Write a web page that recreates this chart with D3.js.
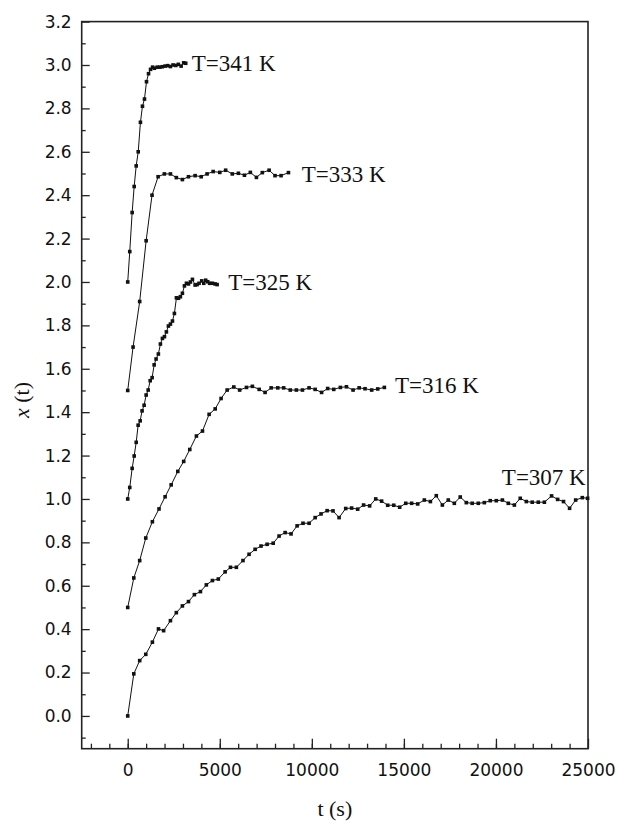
<!DOCTYPE html>
<html>
<head>
<meta charset="utf-8">
<script src="https://cdn.jsdelivr.net/npm/d3@7"></script>
<style>
  body { margin: 0; background: #fff; }
  .tick text { font-family: "DejaVu Sans", sans-serif; font-size: 17px; fill: #111; }
  .lbl { font-family: "Liberation Serif", "Times New Roman", serif; fill: #111; }
</style>
</head>
<body>
<div class="chart"></div>
<script>
// values: time (s) and x(t)
let t341 = [0,110,240,350,460,570,690,800,910,1020,1130,1240,1350,1450,1600,1740,1880,2030,2170,2320,2460,2610,2750,2900,3040,3150]
let x341 = [2.00,2.14,2.32,2.44,2.535,2.60,2.736,2.81,2.843,2.923,2.96,2.98,2.99,2.985,2.99,2.99,2.992,2.995,2.997,2.993,3.0,2.998,3.003,2.995,3.01,3.008]

let t333 = [0,290,650,1000,1320,1650,1990,2320,2640,2970,3300,3660,3990,4310,4640,5000,5320,5680,6010,6340,6660,6990,7310,7680,8000,8330,8730]
let x333 = [1.50,1.70,1.91,2.19,2.40,2.485,2.498,2.498,2.481,2.472,2.485,2.49,2.485,2.498,2.509,2.505,2.515,2.498,2.501,2.492,2.505,2.482,2.504,2.515,2.49,2.49,2.504]

let t325 = [0,110,240,350,460,565,675,780,890,1000,1110,1220,1325,1435,1540,1665,1775,1885,1995,2100,2210,2320,2430,2535,2645,2755,2860,2970,3080,3190,3300,3405,3515,3660,3770,3875,4020,4130,4235,4345,4450,4600,4745,4855]
let x325 = [1.00,1.053,1.141,1.198,1.261,1.34,1.36,1.406,1.432,1.479,1.502,1.545,1.559,1.618,1.645,1.668,1.714,1.74,1.748,1.77,1.797,1.806,1.82,1.855,1.927,1.925,1.932,1.948,1.982,1.994,1.991,2.0,2.012,1.986,1.988,1.994,2.005,1.994,2.008,2.001,1.994,1.994,1.991,1.988]

let t316 = [0,330,650,980,1340,1700,2030,2360,2720,3040,3370,3730,4060,4420,4750,5070,5400,5760,6080,6450,6770,7140,7460,7790,8150,8470,8830,9160,9490,9850,10180,10530,10860,11190,11550,11880,12240,12570,12890,13250,13580,13940]
let x316 = [0.50,0.636,0.716,0.82,0.895,0.954,1.01,1.065,1.127,1.173,1.228,1.29,1.313,1.39,1.415,1.463,1.502,1.516,1.502,1.514,1.519,1.505,1.491,1.512,1.512,1.512,1.502,1.502,1.502,1.512,1.505,1.491,1.509,1.505,1.514,1.517,1.502,1.512,1.508,1.502,1.507,1.514]

let t307 = [0,330,650,980,1340,1670,1950,2320,2640,2970,3300,3620,3950,4270,4600,4920,5290,5580,5900,6260,6590,6920,7240,7570,7900,8220,8550,8870,9200,9520,9850,10180,10500,10830,11150,11480,11840,12160,12490,12810,13140,13470,13790,14120,14450,14770,15100,15420,15750,16110,16440,16760,17090,17410,17740,18060,18390,18710,19040,19370,19690,20020,20350,20670,21000,21320,21650,21970,22300,22630,23020,23350,23670,24000,24330,24690,24980]
let x307 = [0.0,0.194,0.255,0.284,0.34,0.401,0.393,0.439,0.476,0.507,0.527,0.559,0.573,0.604,0.624,0.631,0.664,0.685,0.685,0.716,0.745,0.768,0.783,0.791,0.796,0.829,0.845,0.839,0.876,0.888,0.888,0.914,0.931,0.946,0.945,0.914,0.956,0.958,0.953,0.972,0.968,1.0,0.99,0.971,0.971,0.962,0.98,0.98,0.977,0.995,0.988,1.015,0.972,0.995,0.98,1.009,0.983,0.98,0.98,0.983,0.992,0.992,0.995,0.98,0.972,1.003,0.988,0.985,0.985,0.985,1.014,0.998,0.988,0.957,0.995,1.006,1.003]

let seriesNames = ['T=341 K','T=333 K','T=325 K','T=316 K','T=307 K']
let xTicks = [0,5000,10000,15000,20000,25000]
let yTicks = [0,0.2,0.4,0.6,0.8,1.0,1.2,1.4,1.6,1.8,2.0,2.2,2.4,2.6,2.8,3.0,3.2]

let series = [[t341,x341],[t333,x333],[t325,x325],[t316,x316],[t307,x307]]
  .map((s,k)=>({name:seriesNames[k], pts:s[0].map((t,i)=>[t,s[1][i]])}))

let w = 619, h = 822
let mLeft = 81.7, mRight = 588, mTop = 21.6, mBottom = 748.7

let xScale = d3.scaleLinear().domain([-2500,25000]).range([mLeft,mRight])
let yScale = d3.scaleLinear().domain([-0.151,3.2]).range([mBottom,mTop])

let svg = d3.select('.chart').append('svg').attr('width',w).attr('height',h)

// minor ticks
svg.append('g').attr('transform','translate(0,'+mBottom+')')
  .call(d3.axisBottom(xScale).tickValues(d3.range(-2000,25000,1000)).tickSize(-5).tickFormat(''))
svg.append('g').attr('transform','translate('+mLeft+',0)')
  .call(d3.axisLeft(yScale).tickValues(d3.range(-1,32,2).map(v=>v/10)).tickSize(-4).tickFormat(''))

// major ticks
svg.append('g').attr('transform','translate(0,'+mBottom+')')
  .call(d3.axisBottom(xScale).tickValues(xTicks).tickSizeInner(-10).tickSizeOuter(0).tickPadding(15).tickFormat(d3.format('d')))
svg.append('g').attr('transform','translate('+mLeft+',0)')
  .call(d3.axisLeft(yScale).tickValues(yTicks).tickSizeInner(-8).tickSizeOuter(0).tickPadding(10).tickFormat(d3.format('.1f')))

svg.selectAll('.domain').remove()
svg.selectAll('.tick line').attr('stroke','#222').attr('stroke-width',1.3)

svg.append('rect').attr('x',mLeft).attr('y',mTop).attr('width',mRight-mLeft).attr('height',mBottom-mTop)
  .attr('fill','none').attr('stroke','#222').attr('stroke-width',1.6)

let line = d3.line().x(d=>xScale(d[0])).y(d=>yScale(d[1]))

let g = svg.selectAll('.series').data(series).enter().append('g').attr('class','series')
g.append('path').attr('d',d=>line(d.pts)).attr('fill','none').attr('stroke','#111').attr('stroke-width',1)
g.selectAll('rect').data(d=>d.pts).enter().append('rect')
  .attr('x',d=>xScale(d[0])-1.8).attr('y',d=>yScale(d[1])-1.8).attr('width',3.6).attr('height',3.6).attr('fill','#111')

// curve labels: left end / baseline in data units
let labelPos = [[3480,3.001],[9450,2.487],[5460,1.991],[14520,1.517],[20320,1.092]]
svg.selectAll('.clab').data(series).enter().append('text').attr('class','lbl')
  .attr('x',(d,i)=>xScale(labelPos[i][0])).attr('y',(d,i)=>yScale(labelPos[i][1])+6)
  .attr('font-size',23).text(d=>d.name)

svg.append('text').attr('class','lbl').attr('x',(mLeft+mRight)/2).attr('y',816)
  .attr('text-anchor','middle').attr('font-size',22).text('t (s)')

let yl = svg.append('text').attr('class','lbl').attr('text-anchor','middle').attr('font-size',22)
  .attr('transform','translate(29,400) rotate(-90)')
yl.append('tspan').attr('font-style','italic').text('x')
yl.append('tspan').text(' (t)')
</script>
</body>
</html>
